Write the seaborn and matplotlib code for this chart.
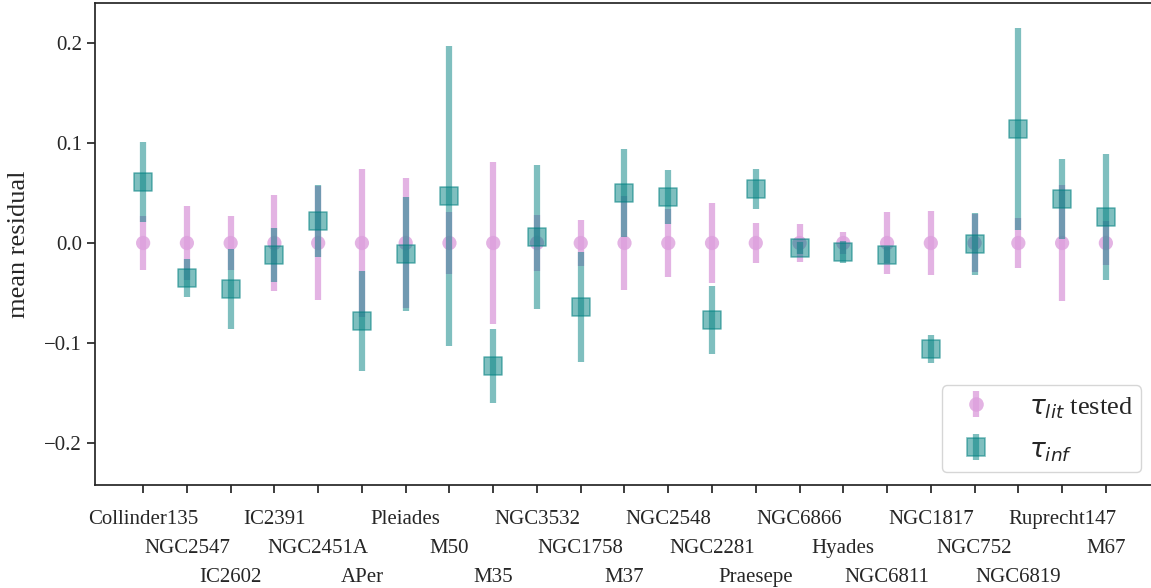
import numpy as np
import pandas as pd
import matplotlib
matplotlib.use("Agg")
import matplotlib.pyplot as plt
import seaborn as sns
from matplotlib.lines import Line2D
from matplotlib.collections import LineCollection
from matplotlib.container import ErrorbarContainer

clusters = ["Collinder135", "NGC2547", "IC2602", "IC2391", "NGC2451A", "APer",
            "Pleiades", "M50", "M35", "NGC3532", "NGC1758", "M37", "NGC2548",
            "NGC2281", "Praesepe", "NGC6866", "Hyades", "NGC6811", "NGC1817",
            "NGC752", "NGC6819", "Ruprecht147", "M67"]
lit_val = [0.0] * 23
lit_err = [0.027, 0.037, 0.027, 0.048, 0.057, 0.074, 0.065, 0.031, 0.081, 0.028,
           0.023, 0.047, 0.034, 0.040, 0.020, 0.019, 0.011, 0.031, 0.032, 0.029,
           0.025, 0.058, 0.022]
inf_val = [0.061, -0.035, -0.046, -0.012, 0.022, -0.078, -0.011, 0.047, -0.123,
           0.006, -0.064, 0.050, 0.046, -0.077, 0.054, -0.005, -0.009, -0.012,
           -0.106, -0.001, 0.114, 0.044, 0.026]
inf_err = [0.040, 0.019, 0.040, 0.027, 0.036, 0.050, 0.057, 0.150, 0.037, 0.072,
           0.055, 0.044, 0.027, 0.034, 0.020, 0.006, 0.011, 0.008, 0.014, 0.031,
           0.101, 0.040, 0.063]
y_ticks = [-0.2, -0.1, 0.0, 0.1, 0.2]

sns.set_theme(style="ticks")
plt.rcParams["font.family"] = ["Liberation Serif", "DejaVu Serif"]
plt.rcParams["mathtext.fontset"] = "dejavusans"

df = pd.DataFrame({"x": np.arange(len(clusters)), "cluster": clusters,
                   "lit": lit_val, "lit_err": lit_err,
                   "inf": inf_val, "inf_err": inf_err})

fig = plt.figure(figsize=(11.51, 5.88), dpi=100)
ax = fig.add_axes([95 / 1151, (588 - 485) / 588, (1154 - 95) / 1151, (485 - 3) / 588])

pink = "plum"
teal = "teal"

ax.errorbar(df["x"], df["lit"], yerr=df["lit_err"], fmt="none", ecolor=pink,
            elinewidth=4.5, alpha=0.8, zorder=2)
sns.scatterplot(data=df, x="x", y="lit", marker="o", s=105, color=pink,
                alpha=0.8, edgecolor="none", zorder=3, ax=ax, legend=False)
ax.errorbar(df["x"], df["inf"], yerr=df["inf_err"], fmt="none", ecolor=teal,
            elinewidth=4.5, alpha=0.5, zorder=4)
sns.scatterplot(data=df, x="x", y="inf", marker="s", s=165, color=teal,
                alpha=0.5, edgecolor=teal, linewidth=1.2, zorder=5, ax=ax,
                legend=False)

# legend proxies
def proxy(marker, color, alpha, ms, mec):
    line = Line2D([], [], marker=marker, color=color, alpha=alpha, markersize=ms,
                  linestyle="none", markeredgecolor=mec, markeredgewidth=1.2)
    lc = LineCollection([], colors=color, linewidths=4.5, alpha=alpha)
    return ErrorbarContainer((line, (), (lc,)), has_xerr=False, has_yerr=True)

h1 = proxy("o", pink, 0.8, 10.5, "none")
h2 = proxy("s", teal, 0.5, 12.8, teal)
ax.legend([h1, h2], [r"$\tau_{lit}$ tested", r"$\tau_{inf}$"], loc="lower right",
          fontsize=19, frameon=True, labelspacing=0.6, handletextpad=1.0,
          borderaxespad=0.5, handleheight=1.0, borderpad=0.3)

ax.set_xlim(-1.1, 23.1)
ax.set_ylim(-0.2425, 0.2405)
ax.set_xticks(df["x"])
ax.set_xticklabels(clusters, fontsize=15)
for i, t in enumerate(ax.xaxis.get_major_ticks()):
    t.set_pad(12 + 21 * (i % 3))
ax.set_yticks(y_ticks)
ax.tick_params(axis="y", labelsize=15)
ax.set_xlabel("")
ax.set_ylabel("mean residual", fontsize=19, labelpad=10)
for s in ax.spines.values():
    s.set_visible(True)
    s.set_color("0.15")

fig.savefig("out.png", dpi=100)
